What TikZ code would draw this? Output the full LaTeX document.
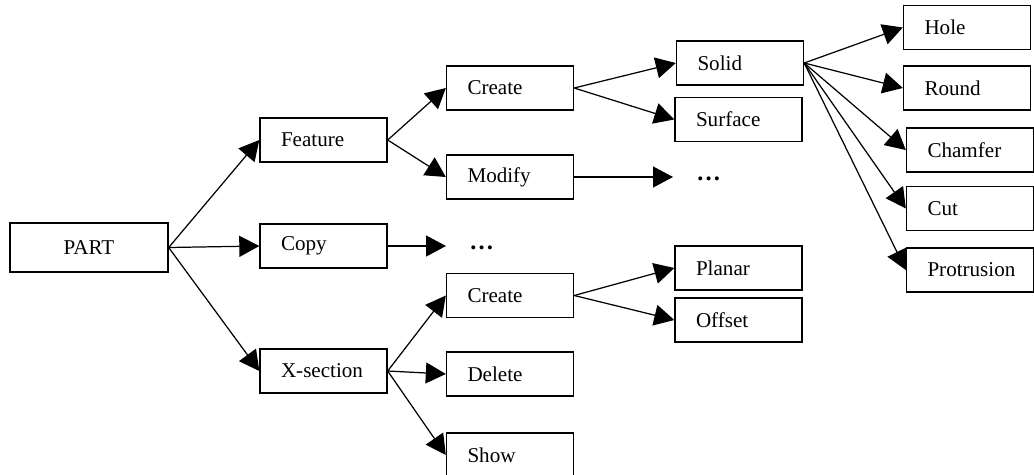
\documentclass[tikz,border=0pt]{standalone}
\usepackage{fontspec}
\setmainfont{Liberation Serif}
\usetikzlibrary{arrows.meta}

\begin{document}
\begin{tikzpicture}[x=0.02cm, y=-0.02cm]
	\tikzstyle{arrow}=[draw, line width=0.7pt, -{Triangle[length=0.4cm, width=0.42cm]}]
	\tikzstyle{box}=[draw, line width=0.8pt, rectangle, minimum width=2.54cm, minimum height=0.88cm, inner xsep=0.08cm, text width=2.38cm, align=left, font=\fontsize{12pt}{14pt}\selectfont, execute at begin node=\hspace*{0.34cm}]
	\tikzstyle{root}=[draw, line width=0.8pt, rectangle, minimum width=3.16cm, minimum height=0.98cm, align=center, font=\fontsize{12pt}{14pt}\selectfont]
	\tikzstyle{more}=[anchor=west, inner xsep=0.46cm, text height=1.2ex, text depth=0.25ex, font=\fontsize{14pt}{16pt}\selectfont\bfseries]

	\clip (0,0) rectangle (1034,474);

	% PART and first level
	\node [root] (part) at (89,247.5) {PART};
	\node [box] (feature) at (323.5,140) {Feature};
	\node [box] (copy) at (323.5,246) {Copy};
	\node [box] (xsec) at (323.5,371) {X-section};

	\path [arrow] (part.east) -- (feature.west);
	\path [arrow] (part.east) -- (copy.west);
	\path [arrow] (part.east) -- (xsec.west);

	% Feature
	\node [box] (createF) at (510,88) {Create};
	\node [box] (modify) at (510,177) {Modify};
	\node [box] (solid) at (740,63) {Solid};
	\node [box] (surface) at (738.5,119.5) {Surface};
	\node [more] (dotsM) at (673,177) {…};

	\path [arrow] (feature.east) -- (createF.west);
	\path [arrow] (feature.east) -- (modify.west);
	\path [arrow] (createF.east) -- (solid.west);
	\path [arrow] (createF.east) -- (surface.west);
	\path [arrow] (modify.east) -- (dotsM.west);

	\foreach \nm/\xx/\yy in {Hole/967/27.5, Round/967/88, Chamfer/970/150, Cut/970/208.5, Protrusion/970/270}
	{
		\node [box] (\nm) at (\xx,\yy) {\nm};
		\path [arrow] (solid.east) -- (\nm.west);
	}

	% Copy
	\node [more] (dotsC) at (446,246) {…};
	\path [arrow] (copy.east) -- (dotsC.west);

	% X-section
	\node [box] (createX) at (510,295.5) {Create};
	\node [box] (delete) at (510,374) {Delete};
	\node [box] (show) at (510,455) {Show};
	\node [box] (planar) at (738.5,268) {Planar};
	\node [box] (offset) at (738.5,320) {Offset};

	\path [arrow] (xsec.east) -- (createX.west);
	\path [arrow] (xsec.east) -- (delete.west);
	\path [arrow] (xsec.east) -- (show.west);
	\path [arrow] (createX.east) -- (planar.west);
	\path [arrow] (createX.east) -- (offset.west);

\end{tikzpicture}
\end{document}
